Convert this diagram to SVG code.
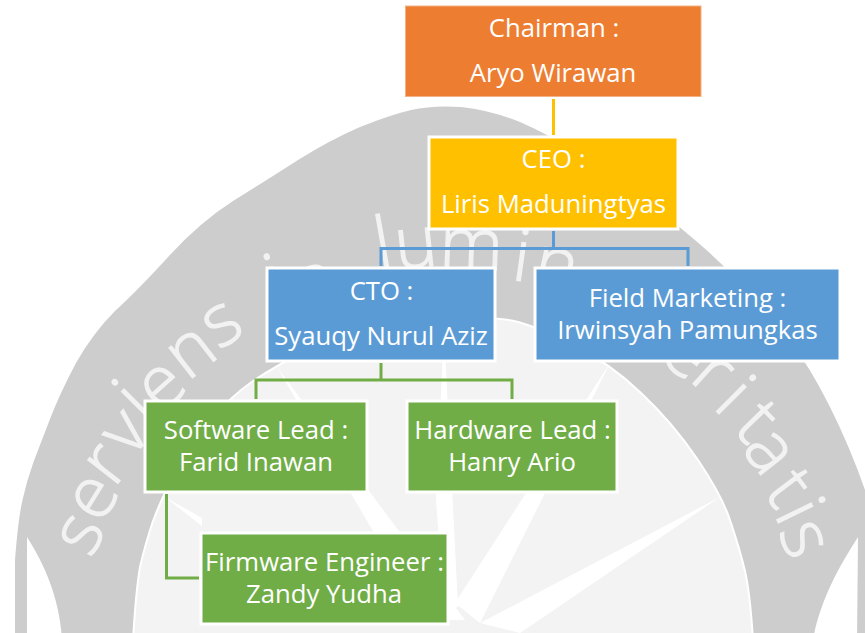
<svg xmlns="http://www.w3.org/2000/svg" width="865" height="633" viewBox="0 0 865 633">
<style>
.n{stroke:#fff;stroke-width:3}
.t{font-family:"Open Sans","Liberation Sans",sans-serif;font-size:25.700px;fill:#fff;text-anchor:middle}
.c{fill:none;stroke-width:3}
.w{fill:#fff}
</style>
<defs>
<filter id="b" x="-5%" y="-5%" width="110%" height="110%"><feGaussianBlur stdDeviation="0.7"/></filter>
</defs>
<rect width="865" height="633" fill="#fff"/>
<g id="watermark" filter="url(#b)">
<path d="M15,640 L15,560 Q18,520 22.500,500 Q27,480 33.500,462 Q40,445 50,419 Q60,393 76,363 Q93,333 115,311 Q138,290 169,256 Q200,222 233,201 Q267,180 298,160 Q330,140 360,127 Q390,115 411,110 Q433,105 461,107 Q490,110 520,122 Q550,135 585,157 Q620,180 650,203 Q680,227 703,247 Q726,267 748,291 Q770,315 790,341 Q810,367 830,407 Q850,447 865,490 L880,640Z" fill="#cdcdcd"/>
<path d="M27,537 C45,565 60,600 62,640 L27,640 Z M858,537 C840,565 820,600 813,640 L857,640 Z" class="w"/>
<path d="M133,640 Q136,590 140,567 Q145,545 153,521 Q162,497 176,471 Q190,445 210,421 Q230,397 253,381 Q277,365 308,350 Q340,335 375,327 Q410,320 453,318 Q496,317 514,321 Q533,325 571,344 Q610,363 641,393 Q673,423 698,460 Q723,497 731,523 Q740,550 745,571 Q750,593 753,640Z" fill="#f3f3f3" stroke="#fff" stroke-width="2"/>
<path class="w" d="M610,363L455,603L480,623Z M720,497L480,623L520,633Z M277,367L425,620L465,620Z M165,497L202,518L202,526Z M444,330L436,500L445,620L458,606Z"/>
<text font-family="'Open Sans',sans-serif" font-size="72" font-weight="300" fill="#f2f2f2" stroke="#f2f2f2" stroke-width="1.200" x="90.900 100.600 114.100 131.200 144.100 160.800 187.500 219 240 276.100 298.600 340 379.100 397.100 438.700 510.400 531.200 577.400 630 624.400 657.300 688.200 712 731.700 740.700 762.800 774.100 777.800" y="559.100 525.200 488.400 459.200 423 414.700 381.700 350.400 330 306.100 309.400 290 269.600 269.400 268 279.600 283.200 299.200 300 326.200 358.800 379.400 407.100 429.400 449.400 492.400 513.900 531.200" rotate="-62 -58 -52 -50 -45 -42 -38 -33 0 -20 -15 0 -10 -6 2 8 12 20 0 33 38 42 45 46 52 53 64 68">serviens in lumine veritatis</text>
</g>
<g id="connectors">
<path class="c" stroke="#ffc000" d="M553.500,99V135"/>
<path class="c" stroke="#5b9bd5" d="M553.500,231V248.500M381,266V248.500H688V266"/>
<path class="c" stroke="#70ad47" d="M381,363V380M256,399V380H512V399M166.500,494V578H199"/>
</g>
<g id="chairman"><rect x="405.500" y="6" width="295.500" height="90.500" fill="#ed7d31" stroke="#f4b183" stroke-width="1"/><text class="t" x="554" y="37">Chairman :</text><text class="t" x="553" y="82">Aryo Wirawan</text></g>
<g id="ceo"><rect class="n" x="429" y="137" width="249" height="92" fill="#ffc000"/><text class="t" x="553.500" y="168">CEO :</text><text class="t" x="553.500" y="213">Liris Maduningtyas</text></g>
<g id="cto"><rect class="n" x="267" y="268" width="228" height="93" fill="#5b9bd5"/><text class="t" x="381.500" y="300">CTO :</text><text class="t" x="381" y="345">Syauqy Nurul Aziz</text></g>
<g id="field-marketing"><rect class="n" x="535" y="268" width="305" height="93" fill="#5b9bd5"/><text class="t" x="687.500" y="307">Field Marketing :</text><text class="t" x="687.500" y="339">Irwinsyah Pamungkas</text></g>
<g id="software-lead"><rect class="n" x="145" y="401" width="222" height="91" fill="#70ad47"/><text class="t" x="256" y="439">Software Lead :</text><text class="t" x="256" y="471">Farid Inawan</text></g>
<g id="hardware-lead"><rect class="n" x="407" y="401" width="210" height="91" fill="#70ad47"/><text class="t" x="512.500" y="439">Hardware Lead :</text><text class="t" x="512" y="471">Hanry Ario</text></g>
<g id="firmware-engineer"><rect class="n" x="201" y="533" width="247" height="91" fill="#70ad47"/><text class="t" x="324.500" y="571">Firmware Engineer :</text><text class="t" x="324" y="603">Zandy Yudha</text></g>
</svg>
